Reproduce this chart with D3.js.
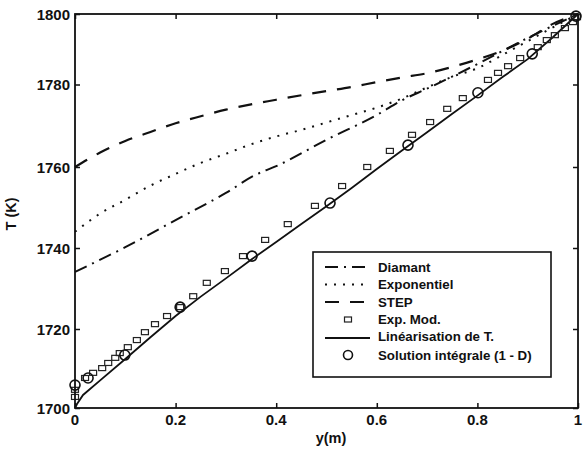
<!DOCTYPE html>
<html><head><meta charset="utf-8">
<script src="https://cdn.jsdelivr.net/npm/d3@7"></script>
<style>
html,body{margin:0;padding:0;background:#fff;}
svg{display:block;font-family:"Liberation Sans",Arial,sans-serif;}
</style></head>
<body>
<svg id="chart" width="583" height="451"></svg>
<script>
// ---- data ----
const xTickValues = [0, 0.2, 0.4, 0.6, 0.8, 1];
const xTickLabels = ["0", "0.2", "0.4", "0.6", "0.8", "1"];
const yTickValues = [1700, 1720, 1740, 1760, 1780, 1800];
const yTickLabels = ["1700", "1720", "1740", "1760", "1780", "1800"];

const gridX = [0,0.05,0.1,0.15,0.2,0.25,0.3,0.35,0.4,0.45,0.5,0.55,0.6,0.65,0.7,0.75,0.8,0.85,0.9,0.95,1];
const stepT = [1760,1763.5,1766.3,1768.5,1770.6,1772.3,1773.9,1775.2,1776.3,1777.4,1778.4,1779.4,1780.7,1782,1783.2,1785,1787.1,1789.6,1793,1797.2,1800];
const expoT = [1744,1748.5,1751.9,1755.4,1758.3,1761,1763.2,1765.5,1767.4,1769,1770.8,1772.6,1774.4,1776.6,1779.3,1782.2,1784.6,1788.4,1792.3,1796.2,1800];
const diamX = [0,0.1,0.2,0.3,0.358,0.4,0.5,0.6,0.652,0.7,0.8,0.9,1];
const diamT = [1734.1,1740.2,1746.9,1753.6,1758,1760.2,1766.6,1772.6,1776.3,1779,1785.8,1793.2,1800];
const linX = [0,0.004,0.016,0.05,0.1,0.15,0.2,0.25,0.3,0.35,0.4,0.45,0.5,0.55,0.6,0.65,0.7,0.75,0.8,0.85,0.9,0.95,1];
const linT = [1700,1701,1703.3,1707,1712.4,1717.9,1723.2,1728,1732.5,1737.1,1741.5,1745.9,1750.3,1754.8,1759.5,1764,1768.4,1772.9,1777.3,1782.1,1787.2,1793.4,1800];
const expModX = [0,0,0.02,0.036,0.054,0.066,0.08,0.089,0.105,0.123,0.139,0.159,0.183,0.209,0.235,0.262,0.298,0.334,0.378,0.423,0.477,0.531,0.581,0.626,0.67,0.706,0.74,0.771,0.821,0.841,0.861,0.885,0.92,0.938,0.954,0.974,0.99,0.998];
const expModT = [1704.6,1702.8,1707.6,1708.9,1710.1,1711.4,1712.7,1713.9,1715.4,1717.2,1719.2,1721.2,1723.2,1725.4,1728.1,1731.4,1734.3,1738,1742,1745.9,1750.4,1755.3,1760,1763.9,1767.8,1770.9,1774.1,1776.7,1781.3,1783.3,1785.2,1787.5,1790.6,1792.6,1794,1796,1797.7,1799.1];
const solX = [0,0.026,0.099,0.209,0.352,0.507,0.662,0.801,0.909,0.996];
const solT = [1705.8,1707.6,1713.4,1725.4,1738,1751.1,1765.3,1778,1788.7,1799.4];

const legendLabels = ["Diamant", "Exponentiel", "STEP", "Exp. Mod.", "Linéarisation de T.", "Solution intégrale (1 - D)"];
const xLabel = "y(m)";
const yLabel = "T (K)";

// ---- drawing ----
const svg = d3.select("#chart");
svg.append("rect").attr("width",583).attr("height",451).attr("fill","#fff");

const x = d3.scaleLinear().domain([0,1]).range([75,578]);
const y = d3.scaleLinear().domain(yTickValues).range([408,329,248,167,84.5,14]);

const zip = (xs, ts) => xs.map((v,i)=>[v, ts[i]]);
const line = d3.line().x(d=>x(d[0])).y(d=>y(d[1])).curve(d3.curveMonotoneX);
const lineLin = d3.line().x(d=>x(d[0])).y(d=>y(d[1]));

const styles = {
  diam: {dash:"13,6,2,6", w:2},
  expo: {dash:"2,7", w:2},
  step: {dash:"14,11", w:2.2},
  lin: {dash:null, w:1.8}
};

function path(data, st, gen){
  svg.append("path").attr("d", gen(data)).attr("fill","none")
    .attr("stroke","#111").attr("stroke-width", st.w)
    .attr("stroke-dasharray", st.dash);
}
path(zip(gridX, stepT), styles.step, line);
path(zip(gridX, expoT), styles.expo, line);
path(zip(diamX, diamT), styles.diam, line);
path(zip(linX, linT), styles.lin, lineLin);

// squares
svg.append("g").selectAll("rect").data(zip(expModX, expModT)).join("rect")
  .attr("x", d=>x(d[0])-3.5).attr("y", d=>y(d[1])-2.5)
  .attr("width",7).attr("height",5)
  .attr("fill","none").attr("stroke","#222").attr("stroke-width",1.2);
// circles
svg.append("g").selectAll("circle").data(zip(solX, solT)).join("circle")
  .attr("cx", d=>x(d[0])).attr("cy", d=>y(d[1])).attr("r",5)
  .attr("fill","none").attr("stroke","#111").attr("stroke-width",1.6);

// frame
svg.append("rect").attr("x",75).attr("y",14).attr("width",503).attr("height",394)
  .attr("fill","none").attr("stroke","#111").attr("stroke-width",1.8);

// axes (inward ticks)
const tl = 5;
const axB = d3.axisTop(x).tickValues(xTickValues).tickSize(tl).tickFormat("");
svg.append("g").attr("transform","translate(0,408)").call(axB);
const axT = d3.axisBottom(x).tickValues(xTickValues).tickSize(tl).tickFormat("");
svg.append("g").attr("transform","translate(0,14)").call(axT);
const axL = d3.axisRight(y).tickValues(yTickValues).tickSize(tl).tickFormat("");
svg.append("g").attr("transform","translate(75,0)").call(axL);
const axR = d3.axisLeft(y).tickValues(yTickValues).tickSize(tl).tickFormat("");
svg.append("g").attr("transform","translate(578,0)").call(axR);
svg.selectAll(".domain").remove();
svg.selectAll(".tick line").attr("stroke","#111").attr("stroke-width",1.5);

// tick labels
svg.append("g").selectAll("text").data(xTickValues).join("text")
  .attr("x", d=>x(d)).attr("y",425).attr("text-anchor","middle")
  .attr("font-size",15).attr("font-weight","bold").attr("fill","#111")
  .text((d,i)=>xTickLabels[i]);
svg.append("g").selectAll("text").data(yTickValues).join("text")
  .attr("x", 70).attr("y", d=>y(d)+5.5).attr("text-anchor","end")
  .attr("font-size",15).attr("font-weight","bold").attr("fill","#111")
  .text((d,i)=>yTickLabels[i]);

// axis labels
svg.append("text").attr("x",331).attr("y",443).attr("text-anchor","middle")
  .attr("font-size",14.5).attr("font-weight","bold").attr("fill","#111").text(xLabel);
svg.append("text").attr("transform","translate(16,214) rotate(-90)").attr("text-anchor","middle")
  .attr("font-size",14.5).attr("font-weight","bold").attr("fill","#111").text(yLabel);

// legend
const lg = svg.append("g");
lg.append("rect").attr("x",313).attr("y",252).attr("width",238).attr("height",125)
  .attr("fill","#fff").attr("stroke","#111").attr("stroke-width",1.6);
const rowY = [267, 284.5, 302, 319.5, 338, 355];
const textY = [267, 284.5, 302, 319, 336, 355];
const rowStyles = [styles.diam, styles.expo, styles.step, null, styles.lin, null];
rowStyles.forEach((st,i)=>{
  if (st) lg.append("line").attr("x1",325).attr("x2",370).attr("y1",rowY[i]).attr("y2",rowY[i])
    .attr("stroke","#111").attr("stroke-width",st.w).attr("stroke-dasharray",st.dash);
});
lg.append("rect").attr("x",348-3.5).attr("y",rowY[3]-2.5).attr("width",7).attr("height",5)
  .attr("fill","none").attr("stroke","#222").attr("stroke-width",1.2);
lg.append("circle").attr("cx",348).attr("cy",rowY[5]).attr("r",4.5)
  .attr("fill","none").attr("stroke","#111").attr("stroke-width",1.6);
lg.selectAll("text.lt").data(legendLabels).join("text").attr("class","lt")
  .attr("x",378).attr("y",(d,i)=>textY[i]+4.5).attr("font-size",13.3).attr("font-weight","bold")
  .attr("fill","#111").text(d=>d);
</script>
</body></html>
